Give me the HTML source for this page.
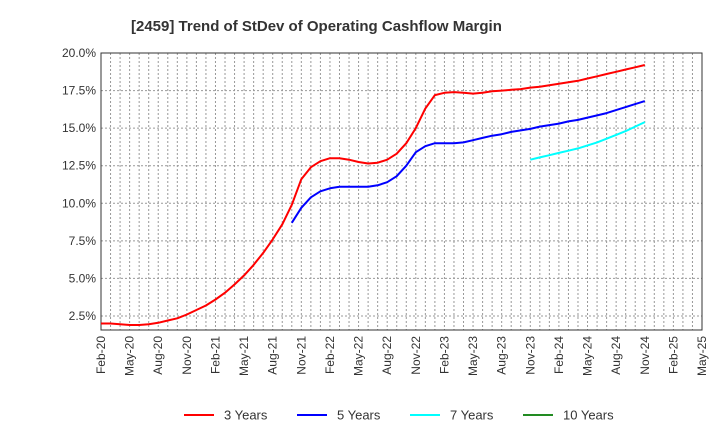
<!DOCTYPE html>
<html><head><meta charset="utf-8"><style>
body{margin:0;background:#fff;font-family:"Liberation Sans",Arial,sans-serif;}
</style></head><body>
<svg id="chart" width="720" height="440" xmlns="http://www.w3.org/2000/svg">
<text x="131" y="31" font-size="15" font-weight="bold" fill="#333">[2459]  Trend of StDev of Operating Cashflow Margin</text>
<g id="grid"></g>
<g id="axes"></g>
<g id="series"></g>
<g id="legend"></g>
</svg>
<script>
const xLabels=["Feb-20","May-20","Aug-20","Nov-20","Feb-21","May-21","Aug-21","Nov-21","Feb-22","May-22","Aug-22","Nov-22","Feb-23","May-23","Aug-23","Nov-23","Feb-24","May-24","Aug-24","Nov-24","Feb-25","May-25"];
const yTicks=[2.5,5.0,7.5,10.0,12.5,15.0,17.5,20.0];
const s3Start=0;
const s3=[2.0,2.0,1.95,1.9,1.9,1.95,2.05,2.2,2.35,2.6,2.9,3.2,3.6,4.05,4.6,5.2,5.9,6.7,7.6,8.6,9.9,11.6,12.4,12.8,13.0,13.0,12.9,12.75,12.65,12.7,12.9,13.3,14.0,15.0,16.3,17.2,17.35,17.4,17.35,17.3,17.35,17.45,17.5,17.55,17.6,17.7,17.75,17.85,17.95,18.05,18.15,18.3,18.45,18.6,18.75,18.9,19.05,19.2];
const s5Start=20;
const s5=[8.7,9.7,10.4,10.8,11.0,11.1,11.1,11.1,11.1,11.2,11.4,11.8,12.5,13.4,13.8,14.0,14.0,14.0,14.05,14.2,14.35,14.5,14.6,14.75,14.85,14.95,15.1,15.2,15.3,15.45,15.55,15.7,15.85,16.0,16.2,16.4,16.6,16.8];
const s7Start=45;
const s7=[12.9,13.05,13.2,13.35,13.5,13.65,13.85,14.05,14.3,14.55,14.8,15.1,15.4];
const s10Start=0;
const s10=[];
const L=101,R=702,T=53,B=330;
const x=m=>L+m*(R-L)/63;
const y=v=>316-(v-2.5)*(316-53)/17.5;
const NS="http://www.w3.org/2000/svg";
function mk(t,a,p){const e=document.createElementNS(NS,t);for(const k in a)e.setAttribute(k,a[k]);p.appendChild(e);return e;}
const grid=document.getElementById('grid'),axes=document.getElementById('axes'),ser=document.getElementById('series'),leg=document.getElementById('legend');
for(let m=1;m<63;m++){const l=mk('line',{x1:x(m),x2:x(m),y1:T,y2:B,stroke:'#999','stroke-dasharray':'2,2','stroke-width':1},grid);

}
yTicks.forEach(v=>{const l=mk('line',{x1:L,x2:R,y1:y(v),y2:y(v),stroke:'#999','stroke-dasharray':'2,2','stroke-width':1},grid);


const t=mk('text',{x:L-5,y:y(v)+4,'text-anchor':'end','font-size':12,fill:'#333'},axes);t.textContent=v.toFixed(1)+'%';

});
const fr=mk('rect',{x:L,y:T,width:R-L,height:B-T,fill:'none',stroke:'#333','stroke-width':1},axes);


xLabels.forEach((s,i)=>{const xx=x(i*3);const t=mk('text',{x:xx+4,y:B+6,'text-anchor':'end','font-size':12,fill:'#333',transform:`rotate(-90 ${xx+4} ${B+6})`},axes);t.textContent=s;

});
function draw(arr,start,col,name){if(!arr.length)return;const d=arr.map((v,i)=>(i?'L':'M')+x(start+i).toFixed(1)+','+y(v).toFixed(1)).join(' ');
const p=mk('path',{d,fill:'none',stroke:col,'stroke-width':2,'stroke-linejoin':'round'},ser);

}
draw(s3,s3Start,'#ff0000','line-3-years');draw(s5,s5Start,'#0000ff','line-5-years');draw(s7,s7Start,'#00ffff','line-7-years');draw(s10,s10Start,'#228b22','line-10-years');
const legItems=[["3 Years","#ff0000",184],["5 Years","#0000ff",297],["7 Years","#00ffff",410],["10 Years","#228b22",523]];
legItems.forEach(([n,c,lx])=>{const g=mk('g',{},leg);


mk('line',{x1:lx,x2:lx+30,y1:415,y2:415,stroke:c,'stroke-width':2},g);
const t=mk('text',{x:lx+40,y:419.5,'font-size':13,fill:'#333'},g);t.textContent=n;});
</script>
</body></html>
